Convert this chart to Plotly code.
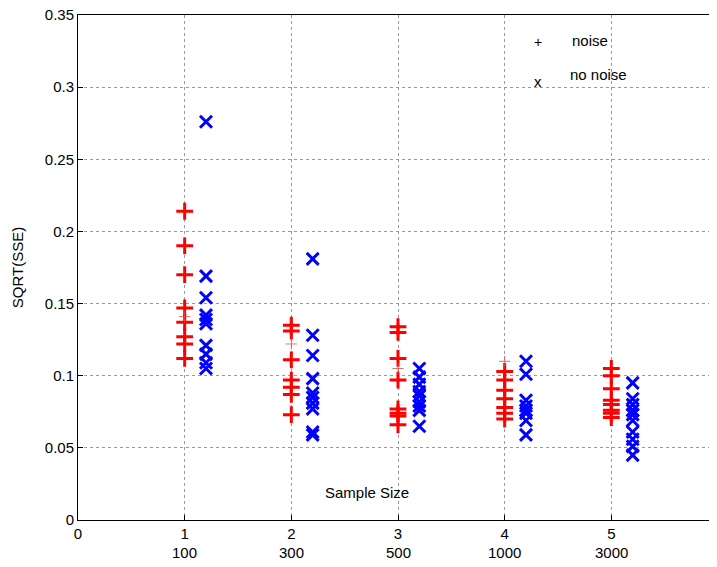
import plotly.graph_objects as go

x_ticks = [0, 1, 2, 3, 4, 5, 6]
sample_sizes = ["100", "300", "500", "1000", "3000"]
y_ticks = [0, 0.05, 0.1, 0.15, 0.2, 0.25, 0.3, 0.35]
y_tick_labels = ["0", "0.05", "0.1", "0.15", "0.2", "0.25", "0.3", "0.35"]

noise_x = [1]*8 + [2]*7 + [3]*8 + [4]*7 + [5]*8
noise_y = [0.214, 0.190, 0.170, 0.147, 0.137, 0.127, 0.122, 0.112,
           0.135, 0.131, 0.111, 0.097, 0.092, 0.087, 0.073,
           0.134, 0.130, 0.112, 0.097, 0.077, 0.074, 0.072, 0.066,
           0.103, 0.097, 0.090, 0.084, 0.078, 0.074, 0.070,
           0.105, 0.100, 0.091, 0.083, 0.080, 0.076, 0.074, 0.071]

mean_x = [1, 2, 3, 4]
mean_y = [0.141, 0.122, 0.105, 0.110]

nonoise_x = [1.2]*10 + [2.2]*10 + [3.2]*9 + [4.2]*8 + [5.2]*10
nonoise_y = [0.276, 0.169, 0.154, 0.142, 0.139, 0.136, 0.121, 0.115, 0.109, 0.105,
             0.181, 0.128, 0.114, 0.098, 0.088, 0.085, 0.081, 0.077, 0.061, 0.059,
             0.105, 0.099, 0.094, 0.089, 0.086, 0.082, 0.079, 0.076, 0.065,
             0.110, 0.101, 0.083, 0.079, 0.076, 0.074, 0.069, 0.059,
             0.095, 0.084, 0.080, 0.076, 0.073, 0.069, 0.061, 0.056, 0.051, 0.045]

FONT = "Liberation Sans, Arial, sans-serif"

fig = go.Figure()
fig.add_trace(go.Scatter(x=noise_x, y=noise_y, mode="markers", name="noise",
                         marker=dict(symbol="cross-thin", size=12, color="red",
                                     line=dict(color="red", width=3))))
fig.add_trace(go.Scatter(x=mean_x, y=mean_y, mode="markers", showlegend=False,
                         marker=dict(symbol="cross-thin", size=8, color="rgba(220,80,80,0.8)",
                                     line=dict(color="rgba(220,80,80,0.8)", width=1))))
fig.add_trace(go.Scatter(x=nonoise_x, y=nonoise_y, mode="markers", name="no noise",
                         marker=dict(symbol="x-thin", size=12, color="blue",
                                     line=dict(color="blue", width=3))))

annotations = []
for i, s in enumerate(sample_sizes):
    annotations.append(dict(x=i + 1, y=-0.064, xref="x", yref="paper", yanchor="middle",
                            text=s, showarrow=False,
                            font=dict(family=FONT, size=15, color="black")))
annotations += [
    dict(x=2.71, y=0.019, xref="x", yref="y", text="Sample Size", showarrow=False,
         font=dict(family=FONT, size=15, color="black")),
    dict(x=4.31, y=0.331, xref="x", yref="y", text="+", showarrow=False,
         font=dict(family=FONT, size=14, color="black")),
    dict(x=4.8, y=0.332, xref="x", yref="y", text="noise", showarrow=False,
         font=dict(family=FONT, size=15, color="black")),
    dict(x=4.31, y=0.304, xref="x", yref="y", text="x", showarrow=False,
         font=dict(family=FONT, size=15, color="black")),
    dict(x=4.88, y=0.309, xref="x", yref="y", text="no noise", showarrow=False,
         font=dict(family=FONT, size=15, color="black")),
]

fig.update_layout(
    width=717, height=567,
    margin=dict(l=70, r=7, t=7, b=55, autoexpand=False),
    paper_bgcolor="white", plot_bgcolor="white",
    showlegend=False,
    font=dict(family=FONT, size=15, color="black"),
    annotations=annotations,
    xaxis=dict(range=[0, 6], tickvals=x_ticks, ticktext=[str(v) for v in x_ticks],
               showgrid=True, gridcolor="#999", griddash="dot", gridwidth=1,
               showline=True, linecolor="black", linewidth=1, mirror=True,
               ticks="inside", ticklen=5, tickcolor="black", zeroline=False,
               automargin=False, ticklabeloverflow="allow",
               tickfont=dict(family=FONT, size=15)),
    yaxis=dict(range=[0, 0.35], tickvals=y_ticks, ticktext=y_tick_labels,
               showgrid=True, gridcolor="#999", griddash="dot", gridwidth=1,
               showline=True, linecolor="black", linewidth=1, mirror=True,
               ticks="inside", ticklen=5, tickcolor="black", zeroline=False,
               automargin=False, ticklabeloverflow="allow",
               tickfont=dict(family=FONT, size=15),
               title=dict(text="SQRT(SSE)", font=dict(family=FONT, size=15), standoff=17)),
)

fig.write_html("out.html")
